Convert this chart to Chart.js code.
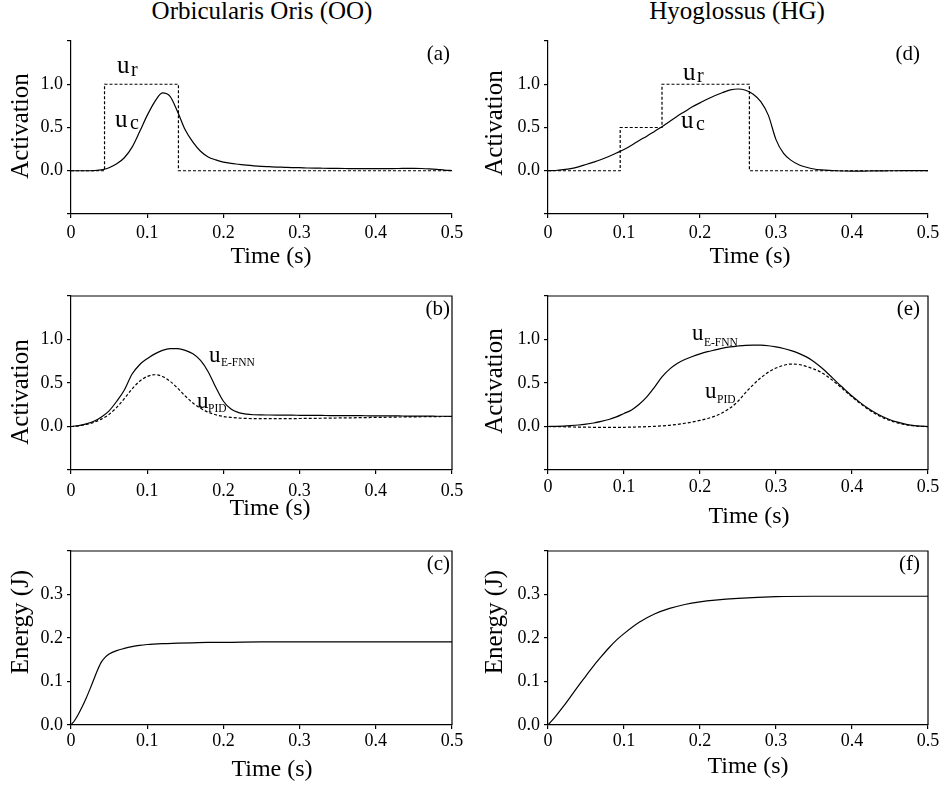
<!DOCTYPE html>
<html lang="en">
<head>
<meta charset="UTF-8">
<title>Activation and energy: Orbicularis Oris vs Hyoglossus</title>
<script src="https://cdn.jsdelivr.net/npm/chart.js"></script>
<style>
  body {
    margin: 0;
    background: #fff;
    width: 944px;
    height: 786px;
    position: relative;
    overflow: hidden;
    color: #000;
  }
  .col-title {
    position: absolute;
    top: -3px;
    font-family: "Liberation Serif", "Times New Roman", "DejaVu Serif", serif;
    font-size: 25px;
    transform: translateX(-50%);
    white-space: nowrap;
  }
  canvas { position: absolute; }
</style>
</head>
<body>
<div class="col-title" style="left:262px">Orbicularis Oris (OO)</div>
<div class="col-title" style="left:737px">Hyoglossus (HG)</div>
<canvas id="pa"></canvas>
<canvas id="pd"></canvas>
<canvas id="pb"></canvas>
<canvas id="pe"></canvas>
<canvas id="pc"></canvas>
<canvas id="pf"></canvas>
<script>
const SERIF = '"Liberation Serif", "Times New Roman", "DejaVu Serif", serif';

// time grid (s) used by the smooth activation curves
const t01 = [0, 0.01, 0.02, 0.03, 0.04, 0.05, 0.06, 0.07, 0.08, 0.09,
  0.10, 0.11, 0.12, 0.13, 0.14, 0.15, 0.16, 0.17, 0.18, 0.19,
  0.20, 0.21, 0.22, 0.23, 0.24, 0.25, 0.26, 0.27, 0.28, 0.29,
  0.30, 0.31, 0.32, 0.33, 0.34, 0.35, 0.36, 0.37, 0.38, 0.39,
  0.40, 0.41, 0.42, 0.43, 0.44, 0.45, 0.46, 0.47, 0.48, 0.49, 0.50];

// (a) OO: reference u_r and control u_c
const urOO_t = [0, 0.044, 0.044, 0.141, 0.141, 0.5];
const urOO = [0, 0, 1, 1, 0, 0];
const ucOO = [0, 0, 0, 0.002, 0.01, 0.035, 0.08, 0.15, 0.27, 0.45,
  0.64, 0.80, 0.90, 0.86, 0.68, 0.47, 0.33, 0.225, 0.16, 0.125,
  0.10, 0.085, 0.075, 0.065, 0.057, 0.051, 0.047, 0.043, 0.040, 0.037,
  0.035, 0.032, 0.030, 0.029, 0.028, 0.027, 0.026, 0.025, 0.025, 0.024,
  0.024, 0.024, 0.025, 0.026, 0.027, 0.028, 0.026, 0.022, 0.016, 0.008, 0.002];

// (d) HG: reference u_r and control u_c
const urHG_t = [0, 0.095, 0.095, 0.15, 0.15, 0.265, 0.265, 0.5];
const urHG = [0, 0, 0.5, 0.5, 1, 1, 0, 0];
const ucHG = [0, 0.003, 0.012, 0.025, 0.045, 0.072, 0.10, 0.13, 0.165, 0.205,
  0.245, 0.295, 0.35, 0.40, 0.455, 0.51, 0.57, 0.63, 0.685, 0.74,
  0.785, 0.83, 0.87, 0.905, 0.935, 0.945, 0.93, 0.885, 0.80, 0.64,
  0.36, 0.20, 0.12, 0.07, 0.04, 0.02, 0.01, 0.004, 0, -0.003,
  -0.004, -0.004, -0.003, -0.002, -0.001, 0, 0, 0.001, 0.001, 0.001, 0.001];

// (b) OO: E-FNN and PID activations
const ueOO = [0, 0.01, 0.03, 0.06, 0.11, 0.18, 0.29, 0.42, 0.60, 0.71,
  0.78, 0.835, 0.875, 0.895, 0.895, 0.875, 0.835, 0.76, 0.63, 0.45,
  0.29, 0.20, 0.16, 0.142, 0.135, 0.133, 0.132, 0.131, 0.130, 0.130,
  0.129, 0.128, 0.128, 0.127, 0.126, 0.126, 0.125, 0.124, 0.124, 0.123,
  0.122, 0.122, 0.121, 0.121, 0.120, 0.120, 0.119, 0.119, 0.118, 0.118, 0.117];
const upOO = [0, 0.008, 0.024, 0.048, 0.085, 0.14, 0.22, 0.32, 0.43, 0.52,
  0.575, 0.595, 0.575, 0.52, 0.44, 0.35, 0.27, 0.21, 0.165, 0.135,
  0.115, 0.104, 0.097, 0.093, 0.091, 0.090, 0.090, 0.090, 0.090, 0.091,
  0.092, 0.093, 0.094, 0.095, 0.096, 0.098, 0.099, 0.100, 0.102, 0.103,
  0.105, 0.106, 0.107, 0.109, 0.110, 0.111, 0.112, 0.113, 0.114, 0.115, 0.115];

// (e) HG: E-FNN and PID activations
const ueHG = [0, 0.002, 0.005, 0.01, 0.017, 0.027, 0.04, 0.058, 0.08, 0.11,
  0.15, 0.19, 0.255, 0.34, 0.45, 0.57, 0.66, 0.725, 0.77, 0.805,
  0.835, 0.86, 0.88, 0.90, 0.915, 0.925, 0.933, 0.936, 0.935, 0.928,
  0.915, 0.897, 0.872, 0.84, 0.80, 0.745, 0.675, 0.595, 0.51, 0.43,
  0.35, 0.28, 0.215, 0.16, 0.115, 0.078, 0.05, 0.028, 0.013, 0.004, 0];
const upHG = [0, -0.001, -0.003, -0.005, -0.007, -0.008, -0.009, -0.01, -0.01, -0.01,
  -0.009, -0.007, -0.005, -0.002, 0.002, 0.007, 0.014, 0.024, 0.037, 0.052,
  0.07, 0.092, 0.12, 0.16, 0.215, 0.29, 0.39, 0.48, 0.56, 0.625,
  0.672, 0.703, 0.718, 0.713, 0.69, 0.66, 0.62, 0.56, 0.49, 0.415,
  0.34, 0.27, 0.205, 0.15, 0.104, 0.068, 0.042, 0.022, 0.009, 0.002, -0.002];

// (c) OO energy, (f) HG energy
const enOO_t = [0, 0.005, 0.01, 0.015, 0.02, 0.025, 0.03, 0.035, 0.04, 0.045,
  0.05, 0.06, 0.07, 0.08, 0.09, 0.10, 0.12, 0.14, 0.16, 0.18,
  0.20, 0.25, 0.30, 0.35, 0.40, 0.45, 0.50];
const enOO = [0, 0.011, 0.026, 0.043, 0.062, 0.083, 0.105, 0.127, 0.145, 0.156,
  0.163, 0.171, 0.176, 0.18, 0.183, 0.185, 0.187, 0.188, 0.189, 0.19,
  0.19, 0.191, 0.191, 0.191, 0.191, 0.191, 0.191];
const enHG_t = [0, 0.01, 0.02, 0.03, 0.04, 0.05, 0.06, 0.07, 0.08, 0.09,
  0.10, 0.12, 0.14, 0.16, 0.18, 0.20, 0.22, 0.25, 0.30, 0.35,
  0.40, 0.45, 0.50];
const enHG = [0, 0.02, 0.042, 0.066, 0.09, 0.113, 0.136, 0.157, 0.177, 0.195,
  0.21, 0.236, 0.255, 0.268, 0.277, 0.283, 0.287, 0.291, 0.295, 0.296,
  0.296, 0.296, 0.296];

Chart.defaults.font.family = SERIF;
Chart.defaults.color = '#000';

const ACT = { min: -0.5, max: 1.5, step: 0.5, title: 'Activation', hide: v => v < -0.2 || v > 1.2 };
const ENG = { min: 0, max: 0.4, step: 0.1, title: 'Energy (J)', hide: v => v > 0.35 };

const solid = (t, v) => ({ t, v });
const dotted = (t, v, step) => ({ t, v, dash: [3, 2], step });

// page coordinates of each panel (canvas box and plot area)
const panels = [
  { id: 'pa', left: 0, top: 0, w: 470, h: 280, pl: 71, pt: 41, pr: 452, pb: 214, y: ACT, xpad: 4, box: false,
    series: [dotted(urOO_t, urOO, true), solid(t01, ucOO)],
    tag: ['(a)', 450, 60], xt: [271, 263], yt: [28, 126],
    labels: [['u', 117, 73, 25, 'r', 131, 76, 20], ['u', 115, 127, 25, 'c', 130, 129, 20]] },
  { id: 'pd', left: 470, top: 0, w: 474, h: 280, pl: 548, pt: 41, pr: 928, pb: 214, y: ACT, xpad: 4, box: false,
    series: [dotted(urHG_t, urHG, true), solid(t01, ucHG)],
    tag: ['(d)', 920, 60], xt: [750, 263], yt: [502, 123],
    labels: [['u', 683, 80, 25, 'r', 697, 82, 20], ['u', 681, 128, 25, 'c', 696, 130, 20]] },
  { id: 'pb', left: 0, top: 280, w: 470, h: 250, pl: 71, pt: 296, pr: 452, pb: 470, y: ACT, xpad: 6, box: true,
    series: [dotted(t01, upOO), solid(t01, ueOO)],
    tag: ['(b)', 450, 315], xt: [270, 515], yt: [28, 392],
    labels: [['u', 209, 362, 23, 'E-FNN', 221, 366, 11.5], ['u', 197, 408, 23, 'PID', 208, 412, 11.5]] },
  { id: 'pe', left: 470, top: 280, w: 474, h: 250, pl: 548, pt: 296, pr: 928, pb: 470, y: ACT, xpad: 2, box: true,
    series: [dotted(t01, upHG), solid(t01, ueHG)],
    tag: ['(e)', 920, 315], xt: [749, 523], yt: [502, 381],
    labels: [['u', 692, 340, 23, 'E-FNN', 704, 346, 11.5], ['u', 705, 398, 23, 'PID', 717, 403, 11.5]] },
  { id: 'pc', left: 0, top: 530, w: 470, h: 256, pl: 71, pt: 551, pr: 452, pb: 725, y: ENG, xpad: 1, box: true,
    series: [solid(enOO_t, enOO)],
    tag: ['(c)', 450, 570], xt: [272, 776], yt: [28, 622], labels: [] },
  { id: 'pf', left: 470, top: 530, w: 474, h: 256, pl: 548, pt: 551, pr: 928, pb: 725, y: ENG, xpad: 1, box: true,
    series: [solid(enHG_t, enHG)],
    tag: ['(f)', 920, 570], xt: [748, 773], yt: [502, 622], labels: [] }
];

// frame, titles and curve labels drawn on top of each panel
function makeDeco(p) {
  return {
    id: 'deco',
    afterDraw(chart) {
      const ctx = chart.ctx, a = chart.chartArea;
      const X = v => v - p.left, Y = v => v - p.top;
      ctx.save();
      ctx.fillStyle = '#000';
      ctx.strokeStyle = '#000';
      if (p.box) {
        ctx.lineWidth = 1.2;
        ctx.beginPath();
        ctx.moveTo(a.left, a.top);
        ctx.lineTo(a.right, a.top);
        ctx.lineTo(a.right, a.bottom);
        ctx.stroke();
      }
      ctx.textBaseline = 'alphabetic';
      ctx.font = '24px ' + SERIF;
      ctx.textAlign = 'center';
      ctx.fillText('Time (s)', X(p.xt[0]), Y(p.xt[1]));

      ctx.font = '21px ' + SERIF;
      ctx.textAlign = 'right';
      ctx.fillText(p.tag[0], X(p.tag[1]), Y(p.tag[2]));

      ctx.textAlign = 'left';
      p.labels.forEach(l => {
        ctx.font = l[3] + 'px ' + SERIF;
        ctx.fillText(l[0], X(l[1]), Y(l[2]));
        ctx.font = l[7] + 'px ' + SERIF;
        ctx.fillText(l[4], X(l[5]), Y(l[6]));
      });

      ctx.font = '25px ' + SERIF;
      ctx.textAlign = 'center';
      ctx.translate(X(p.yt[0]), Y(p.yt[1]));
      ctx.rotate(-Math.PI / 2);
      ctx.fillText(p.y.title, 0, 0);
      ctx.restore();
    }
  };
}

function drawPanel(p) {
  const cv = document.getElementById(p.id);
  cv.width = p.w;
  cv.height = p.h;
  cv.style.left = p.left + 'px';
  cv.style.top = p.top + 'px';

  const axisGrid = { drawOnChartArea: false, drawTicks: true, tickLength: 4, color: '#000', lineWidth: 1.2 };
  const axisBorder = { display: true, color: '#000', width: 1.2 };
  const tickFont = { family: SERIF, size: 18 };

  new Chart(cv, {
    type: 'scatter',
    data: {
      datasets: p.series.map(s => ({
        data: s.t.map((x, i) => ({ x: x, y: s.v[i] })),
        showLine: true,
        borderColor: '#000',
        borderWidth: 1.2,
        borderDash: s.dash || [],
        borderJoinStyle: 'miter',
        pointRadius: 0,
        tension: 0,
        cubicInterpolationMode: s.step ? 'default' : 'monotone'
      }))
    },
    options: {
      responsive: false,
      animation: false,
      devicePixelRatio: 1,
      layout: { padding: { left: 0, bottom: 0, top: p.pt - p.top, right: p.left + p.w - p.pr } },
      plugins: { legend: { display: false }, tooltip: { enabled: false } },
      scales: {
        x: {
          type: 'linear', min: 0, max: 0.5,
          afterFit: s => { s.height = p.top + p.h - p.pb; },
          ticks: {
            stepSize: 0.1, padding: p.xpad, color: '#000', autoSkip: false, maxRotation: 0,
            font: tickFont,
            callback: v => v === 0 ? '0' : v.toFixed(1)
          },
          grid: axisGrid,
          border: axisBorder
        },
        y: {
          type: 'linear', min: p.y.min, max: p.y.max,
          afterFit: s => { s.width = p.pl - p.left; },
          ticks: {
            stepSize: p.y.step, padding: 4, color: '#000', autoSkip: false,
            font: tickFont,
            callback: v => p.y.hide(v) ? '' : v.toFixed(1)
          },
          grid: axisGrid,
          border: axisBorder
        }
      }
    },
    plugins: [makeDeco(p)]
  });
}

panels.forEach(drawPanel);
</script>
</body>
</html>
